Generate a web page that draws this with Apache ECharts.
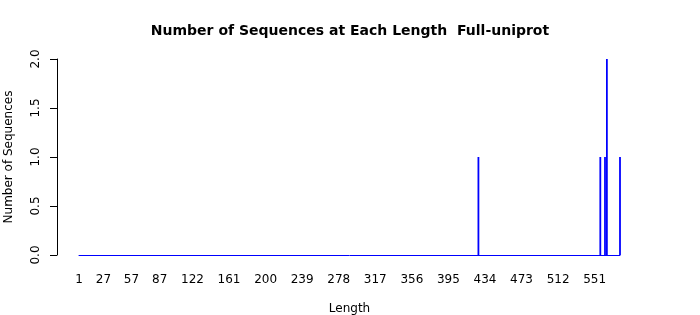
<!DOCTYPE html>
<html>
<head>
<meta charset="utf-8">
<script src="https://cdn.jsdelivr.net/npm/echarts@6/dist/echarts.min.js"></script>
<style>html,body{margin:0;padding:0;background:#fff;}#c{width:700px;height:315px;}</style>
</head>
<body>
<div id="c"></div>
<script>
// Sequence lengths 1..578
const lengths = [];
for (let i = 1; i <= 578; i++) lengths.push(i);
// Lengths with non-zero counts
const peakLengths = [427, 557, 562, 564, 578];
const peakCounts  = [1, 1, 1, 2, 1];
// Tick labels shown on the x axis
const xTickLabels = [1, 27, 57, 87, 122, 161, 200, 239, 278, 317, 356, 395, 434, 473, 512, 551];

const counts = lengths.map(l => {
  const k = peakLengths.indexOf(l);
  return k >= 0 ? peakCounts[k] : 0;
});

const font = 'DejaVu Sans';
const blue = '#0000ff';
const chart = echarts.init(document.getElementById('c'), null, {renderer: 'canvas'});
chart.setOption({
  animation: false,
  backgroundColor: '#ffffff',
  title: {
    text: 'Number of Sequences at Each Length  Full-uniprot',
    left: 'center', top: 19,
    textStyle: {fontFamily: font, fontSize: 14, fontWeight: 'bold', color: '#000'}
  },
  grid: {left: 79, right: 80, top: 59, bottom: 60, containLabel: false, outerBoundsMode: 'none'},
  xAxis: {
    type: 'category',
    data: lengths.map(String),
    boundaryGap: false,
    axisLine: {show: true, onZero: true, lineStyle: {color: blue, width: 1}},
    axisTick: {show: false},
    axisLabel: {
      interval: (idx, val) => xTickLabels.indexOf(Number(val)) >= 0,
      margin: 19, fontFamily: font, fontSize: 12, color: '#000'
    },
    name: 'Length', nameLocation: 'middle', nameGap: 48,
    nameTextStyle: {fontFamily: font, fontSize: 12, color: '#000'}
  },
  yAxis: {
    type: 'value', min: 0, max: 2, interval: 0.5,
    offset: 22,
    splitLine: {show: false},
    axisLine: {show: true, lineStyle: {color: '#000', width: 1}},
    axisTick: {show: true, length: 7, lineStyle: {color: '#000'}},
    axisLabel: {
      rotate: 90, margin: 15, fontFamily: font, fontSize: 12, color: '#000',
      formatter: v => v.toFixed(1)
    },
    name: 'Number of Sequences', nameLocation: 'middle', nameGap: 42,
    nameTextStyle: {fontFamily: font, fontSize: 12, color: '#000'}
  },
  series: [{
    type: 'bar',
    data: counts,
    barWidth: 1.8,
    itemStyle: {color: blue},
    emphasis: {disabled: true}
  }]
});
</script>
</body>
</html>
